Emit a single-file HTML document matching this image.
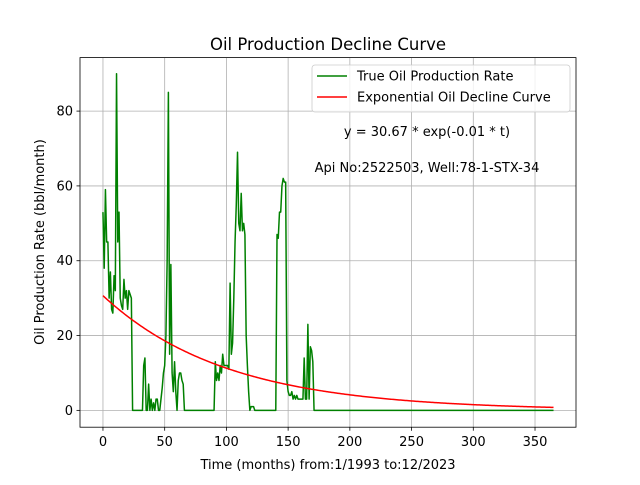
<!DOCTYPE html>
<html><head><meta charset="utf-8"><style>
body{margin:0;background:#fff}
svg{font-family:"DejaVu Sans","Liberation Sans",sans-serif}
</style></head><body>
<svg id="chart" width="640" height="480" viewBox="0 0 640 480">
<rect width="640" height="480" fill="#fff"/>
<g id="grid"></g>
<g id="series"></g>
<rect x="80" y="57.6" width="496" height="369.6" fill="none" stroke="#000" stroke-width="0.8"/>
<g id="ticks" font-size="13"></g>
<text x="328" y="50" font-size="16.5" text-anchor="middle">Oil Production Decline Curve</text>
<text x="328" y="469" font-size="13" text-anchor="middle">Time (months) from:1/1993 to:12/2023</text>
<text x="44" y="242" font-size="13" text-anchor="middle" transform="rotate(-90 44 242)">Oil Production Rate (bbl/month)</text>
<g>
<rect x="312" y="65" width="258" height="47" rx="3" fill="#fff" fill-opacity="0.8" stroke="#ccc" stroke-width="0.8"/>
<line x1="317" y1="76" x2="347" y2="76" stroke="green" stroke-width="1.5"/>
<text x="357" y="80.5" font-size="13">True Oil Production Rate</text>
<line x1="317" y1="97" x2="347" y2="97" stroke="red" stroke-width="1.5"/>
<text x="357" y="101.5" font-size="13">Exponential Oil Decline Curve</text>
</g>
<text x="427" y="136" font-size="13" text-anchor="middle">y = 30.67 * exp(-0.01 * t)</text>
<text x="427" y="172" font-size="13" text-anchor="middle">Api No:2522503, Well:78-1-STX-34</text>
</svg>
<script>
const months=[0,1,2,3,4,5,6,7,8,9,10,11,12,13,14,15,16,17,18,19,20,21,22,23,24,32,33,34,35,36,37,38,39,40,41,42,43,44,45,46,47,48,49,50,51,52,53,54,55,56,57,58,59,60,61,62,63,64,65,66,90,91,92,93,94,95,96,97,98,99,100,101,102,103,104,105,106,107,108,109,110,111,112,113,114,115,116,117,118,119,120,121,122,123,139,140,141,142,143,144,145,146,147,148,149,150,151,152,153,154,155,156,157,158,159,160,161,162,163,164,165,166,167,168,169,170,171,172,173,174,365];
const rates=[53,38,59,45,45,30,37,27,26,36,32,90,45,53,30,28,27,35,30,32,27,32,31,30,0,0,12,14,0,0,7,0,3,0,2,0,3,3,0,0,3,6,10,12,20,40,85,15,39,10,5,13,5,0,8,10,10,8,7,0,0,13,8,10,8,12,10,15,12,12,12,12,11,34,15,18,30,45,55,69,50,48,58,48,50,47,20,12,5,0,1,1,1,0,0,0,47,46,53,53,60,62,61,61,8,5,4,4,5,3,4,3,4,3,3,3,3,3,14,3,3,23,3,17,16,13,0,0,0,0,0];
const expA=30.67, expK=0.01, expEnd=365;
const xTicks=[0,50,100,150,200,250,300,350];
const yTicks=[0,20,40,60,80];
const NS="http://www.w3.org/2000/svg";
const X0=80,X1=576,Y0=427.2,Y1=57.6,xmin=-18.6,xmax=383.2,ymin=-4.5,ymax=94.3;
const sx=v=>X0+(v-xmin)/(xmax-xmin)*(X1-X0);
const sy=v=>Y0-(v-ymin)/(ymax-ymin)*(Y0-Y1);
const grid=document.getElementById('grid'),ticks=document.getElementById('ticks'),ser=document.getElementById('series');
function mk(tag,attrs,parent){const e=document.createElementNS(NS,tag);for(const k in attrs)e.setAttribute(k,attrs[k]);parent.appendChild(e);return e;}
xTicks.forEach(t=>{
 const x=sx(t);
 const g=mk('line',{x1:x,x2:x,y1:Y1,y2:Y0,stroke:'#b0b0b0','stroke-width':0.8},grid);
 
 
 const tk=mk('line',{x1:x,x2:x,y1:Y0,y2:Y0+3.5,stroke:'#000','stroke-width':0.8},ticks);
 
 
 const lb=mk('text',{x:x,y:Y0+19,'text-anchor':'middle'},ticks);lb.textContent=t;
 
 
});
yTicks.forEach(t=>{
 const y=sy(t);
 const g=mk('line',{x1:X0,x2:X1,y1:y,y2:y,stroke:'#b0b0b0','stroke-width':0.8},grid);
 
 
 const tk=mk('line',{x1:X0-3.5,x2:X0,y1:y,y2:y,stroke:'#000','stroke-width':0.8},ticks);
 
 
 const lb=mk('text',{x:X0-7,y:y+4.5,'text-anchor':'end'},ticks);lb.textContent=t;
 
 
});
const pts=months.map((m,i)=>sx(m).toFixed(2)+','+sy(rates[i]).toFixed(2)).join(' ');
const pl=mk('polyline',{points:pts,fill:'none',stroke:'green','stroke-width':1.5,'stroke-linejoin':'round'},ser);


const ep=[];for(let t=0;t<=expEnd;t+=1)ep.push(sx(t).toFixed(2)+','+sy(expA*Math.exp(-expK*t)).toFixed(2));
const el=mk('polyline',{points:ep.join(' '),fill:'none',stroke:'red','stroke-width':1.5},ser);


</script>
</body></html>
